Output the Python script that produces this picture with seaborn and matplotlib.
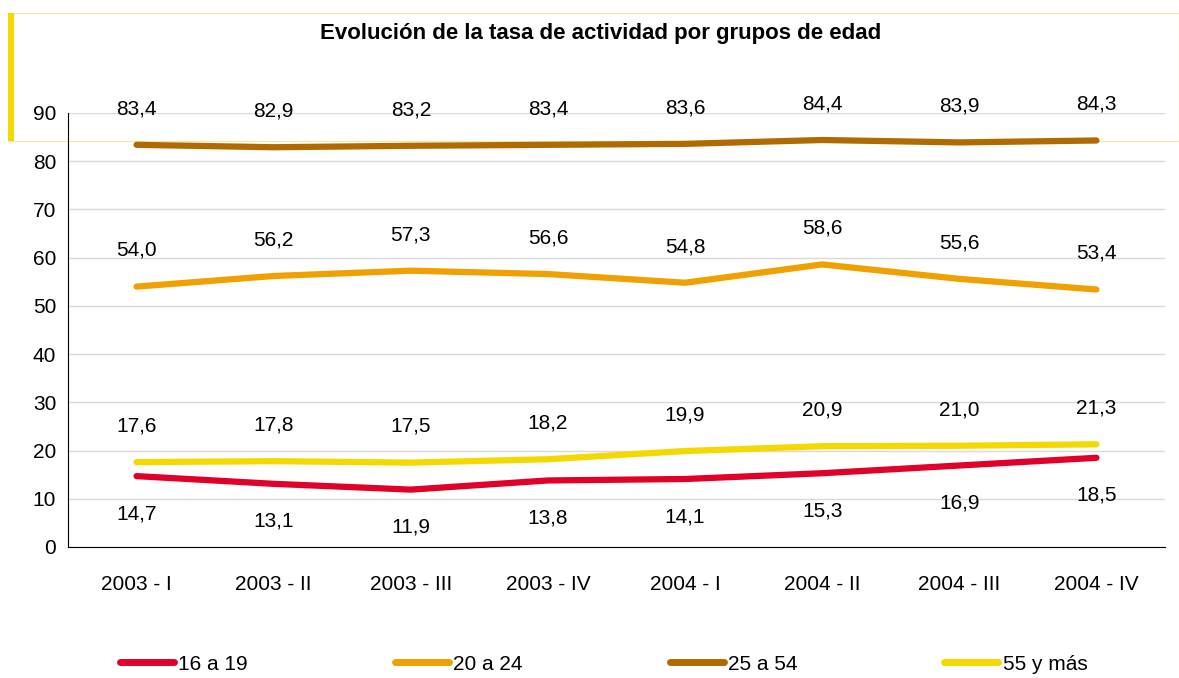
import numpy as np
import pandas as pd
import matplotlib
matplotlib.use("Agg")
import matplotlib.pyplot as plt
import seaborn as sns
from matplotlib.patches import Rectangle

# Data
periodos = ["2003 - I", "2003 - II", "2003 - III", "2003 - IV",
            "2004 - I", "2004 - II", "2004 - III", "2004 - IV"]
tasa_16_19 = [14.7, 13.1, 11.9, 13.8, 14.1, 15.3, 16.9, 18.5]
tasa_20_24 = [54.0, 56.2, 57.3, 56.6, 54.8, 58.6, 55.6, 53.4]
tasa_25_54 = [83.4, 82.9, 83.2, 83.4, 83.6, 84.4, 83.9, 84.3]
tasa_55_mas = [17.6, 17.8, 17.5, 18.2, 19.9, 20.9, 21.0, 21.3]
grupos = ["16 a 19", "20 a 24", "25 a 54", "55 y más"]
colores = ["#E0002A", "#F0A000", "#B06A00", "#F5D800"]

sns.set_style("white")
plt.rcParams["font.family"] = ["Liberation Sans", "DejaVu Sans"]
plt.rcParams["text.color"] = "black"
plt.rcParams["xtick.color"] = "black"
plt.rcParams["ytick.color"] = "black"

series = [tasa_16_19, tasa_20_24, tasa_25_54, tasa_55_mas]
df = pd.DataFrame({
    "periodo": np.tile(np.arange(len(periodos)), len(grupos)),
    "tasa": np.concatenate(series),
    "grupo": np.repeat(grupos, len(periodos)),
})

fig = plt.figure(figsize=(11.79, 6.78), dpi=100)
ax = fig.add_axes([68 / 1179, 1 - 547 / 678, (1165 - 68) / 1179, (547 - 113) / 678])

# frame around the title area with a thick yellow bar on the left
fig.patches.append(Rectangle((8 / 1179, 1 - 141 / 678), 1 - 8 / 1179, 128 / 678,
                             transform=fig.transFigure, fill=False,
                             edgecolor="#F5E6A0", linewidth=0.8, zorder=-1))
fig.patches.append(Rectangle((8 / 1179, 1 - 141 / 678), 6 / 1179, 128 / 678,
                             transform=fig.transFigure, facecolor="#F5D800",
                             edgecolor="none", zorder=-1))
ax.patch.set_alpha(0)

sns.lineplot(data=df, x="periodo", y="tasa", hue="grupo", palette=colores,
             hue_order=grupos, linewidth=4.5, ax=ax, legend=False, zorder=3)

for vals, grp in zip(series, grupos):
    off = -27 if grp == "16 a 19" else 26
    for i, v in enumerate(vals):
        ax.annotate(f"{v:.1f}".replace(".", ","), (i, v), xytext=(0, off),
                    textcoords="offset points", ha="center", va="center",
                    fontsize=15, color="black")

ax.set_xlim(-0.5, len(periodos) - 0.5)
ax.set_ylim(0, 90)
ax.set_yticks(range(0, 91, 10))
ax.set_xticks(np.arange(len(periodos)))
ax.set_xticklabels(periodos, fontsize=15)
ax.set_xticks(np.arange(-0.5, len(periodos), 1), minor=True)
ax.tick_params(axis="x", which="major", length=0, pad=20)
ax.tick_params(axis="x", which="minor", length=5, color="black", direction="in")
ax.tick_params(axis="y", labelsize=15, length=5, color="black", direction="out")
ax.yaxis.grid(True, color="#D9D9D9", linewidth=1)
ax.set_axisbelow(True)
for s in ["top", "right"]:
    ax.spines[s].set_visible(False)
ax.spines["left"].set_color("black")
ax.spines["bottom"].set_color("black")
ax.set_xlabel("")
ax.set_ylabel("")

fig.text(601 / 1179, 1 - 34 / 678, "Evolución de la tasa de actividad por grupos de edad",
         ha="center", va="center", fontsize=16, fontweight="bold")

handles = [plt.Line2D([], [], color=c, linewidth=5, solid_capstyle="round") for c in colores]
fig.legend(handles, grupos, loc="center left", bbox_to_anchor=(120 / 1179, 1 - 664 / 678),
           ncol=4, frameon=False, fontsize=15, handlelength=2.6, handletextpad=0.2,
           columnspacing=7.05, borderpad=0, borderaxespad=0)

fig.savefig("out.png", dpi=100)
